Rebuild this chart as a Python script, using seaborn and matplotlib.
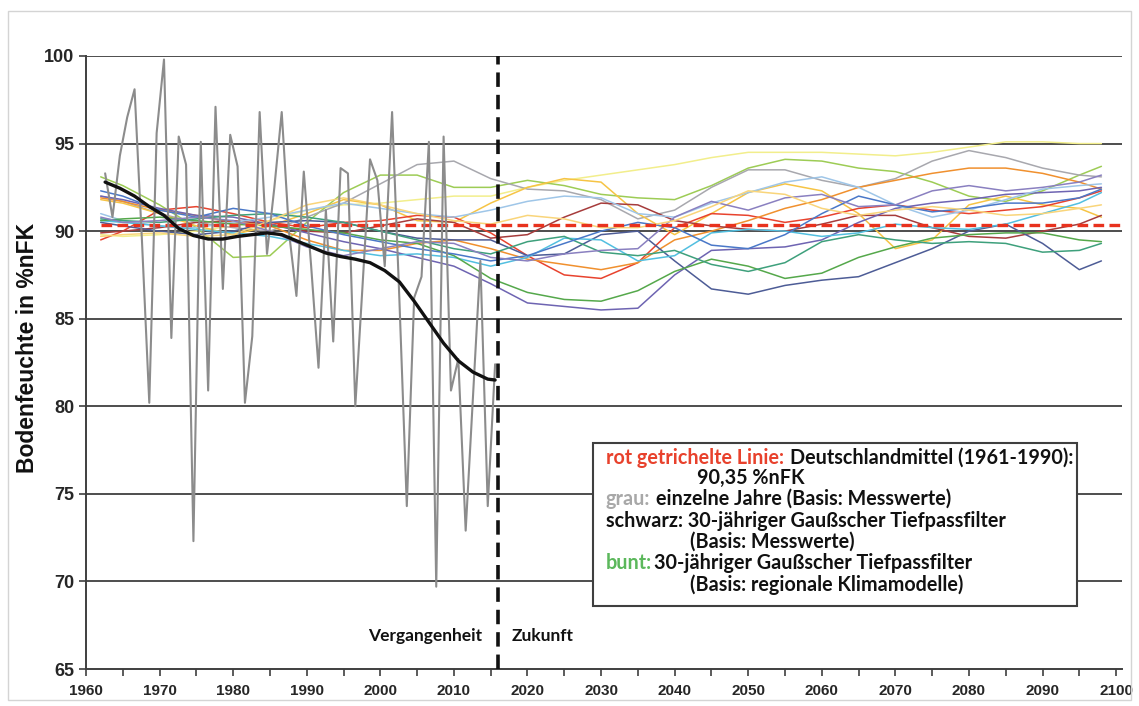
import numpy as np
import pandas as pd
import matplotlib
matplotlib.use("Agg")
import matplotlib.pyplot as plt
import seaborn as sns
from matplotlib.patches import Rectangle

# ---------------- data ----------------
OBS_YEARS = list(range(1962, 2016))
OBS_VALUES = [93.3, 90.8, 94.3, 96.5, 98.1, 89.5, 80.2, 95.6, 99.8, 83.9,
              95.4, 93.8, 72.3, 95.1, 80.9, 97.1, 86.7, 95.5, 93.7, 80.2,
              84.0, 96.8, 88.7, 92.5, 96.8, 89.9, 86.3, 93.4, 88.0, 82.2,
              91.2, 83.7, 93.6, 93.3, 80.0, 87.0, 94.1, 92.9, 88.0, 96.8,
              86.0, 74.3, 86.2, 87.4, 95.1, 69.7, 95.4, 80.9, 82.7, 72.9,
              80.6, 88.3, 74.3, 82.4]

SMOOTH_YEARS = [1962, 1964, 1966, 1968, 1970, 1972, 1974, 1976, 1978, 1980,
                1982, 1984, 1986, 1988, 1990, 1992, 1994, 1996, 1998, 2000,
                2002, 2004, 2006, 2008, 2010, 2012, 2014, 2015]
SMOOTH_VALUES = [92.8, 92.45, 92.0, 91.4, 90.9, 90.15, 89.75, 89.55, 89.55, 89.7,
                 89.8, 89.9, 89.8, 89.45, 89.1, 88.75, 88.55, 88.4, 88.2, 87.75,
                 87.1, 86.0, 84.8, 83.6, 82.6, 81.95, 81.55, 81.5]

MODEL_YEARS = [1962] + list(range(1965, 2100, 5)) + [2098]
M01 = [89.8, 89.7, 89.8, 90.0, 90.3, 90.6, 91.2, 91.5, 91.6, 91.8, 92.0, 92.0, 92.5, 92.9, 93.2,
       93.5, 93.8, 94.2, 94.5, 94.5, 94.5, 94.4, 94.3, 94.5, 94.8, 95.1, 95.1, 95.0, 95.0]
M02 = [93.1, 92.6, 91.5, 90.2, 88.5, 88.6, 90.5, 92.2, 93.2, 93.2, 92.5, 92.5, 92.9, 92.6, 92.1,
       91.9, 91.8, 92.6, 93.6, 94.1, 94.0, 93.6, 93.4, 92.8, 92.0, 91.7, 92.3, 93.2, 93.7]
M03 = [92.0, 91.7, 91.0, 90.5, 90.2, 90.0, 90.8, 91.6, 92.7, 93.8, 94.0, 93.0, 92.4, 92.3, 91.8,
       90.7, 91.2, 92.5, 93.5, 93.5, 92.9, 92.5, 93.0, 94.0, 94.6, 94.2, 93.6, 93.2, 93.1]
M04 = [91.8, 91.6, 91.0, 90.3, 89.8, 90.3, 91.0, 91.8, 91.5, 90.6, 90.5, 91.6, 92.5, 93.0, 92.8,
       91.0, 89.8, 91.0, 92.2, 92.7, 92.3, 91.0, 89.0, 89.5, 91.5, 92.0, 91.5, 91.3, 90.8]
M05 = [89.5, 90.0, 91.2, 91.4, 91.0, 90.5, 90.2, 90.5, 90.6, 90.9, 90.8, 89.9, 88.6, 87.5, 87.3,
       88.2, 90.2, 91.0, 90.9, 90.5, 90.8, 91.3, 91.5, 91.2, 91.0, 91.2, 91.4, 91.9, 92.3]
M06 = [91.9, 91.7, 91.2, 90.9, 90.5, 90.3, 89.5, 88.9, 88.9, 89.3, 89.5, 89.0, 88.4, 88.1, 87.8,
       88.2, 89.5, 90.0, 90.6, 91.3, 91.8, 92.5, 92.9, 93.3, 93.6, 93.6, 93.3, 92.8, 92.4]
M07 = [89.9, 90.0, 90.2, 90.5, 90.6, 90.4, 90.0, 89.9, 90.3, 90.7, 90.5, 89.6, 89.8, 90.8, 91.6,
       91.5, 90.6, 90.3, 90.1, 90.0, 90.4, 90.9, 90.9, 90.2, 89.7, 89.6, 90.0, 90.4, 90.9]
M08 = [90.5, 90.3, 90.0, 89.8, 90.0, 90.5, 90.6, 90.5, 90.0, 89.6, 89.5, 89.5, 88.6, 88.7, 89.8,
       90.0, 88.3, 86.7, 86.4, 86.9, 87.2, 87.4, 88.2, 89.0, 90.0, 90.4, 89.3, 87.8, 88.3]
M09 = [92.0, 91.8, 91.3, 90.9, 90.8, 90.4, 89.9, 89.4, 89.0, 88.5, 88.0, 87.0, 85.9, 85.7, 85.5,
       85.6, 87.5, 88.9, 89.0, 89.1, 89.5, 90.5, 91.3, 91.6, 91.8, 92.1, 92.2, 92.3, 92.5]
M10 = [91.0, 90.6, 90.3, 90.2, 90.5, 90.8, 91.2, 91.6, 91.3, 91.0, 90.8, 91.2, 91.7, 92.0, 91.9,
       91.0, 90.8, 91.6, 92.2, 92.8, 93.1, 92.5, 91.5, 90.8, 91.2, 91.8, 92.4, 92.6, 92.7]
M11 = [90.6, 90.5, 90.3, 90.1, 89.9, 89.7, 89.3, 88.9, 88.6, 88.7, 88.5, 88.0, 88.5, 89.6, 89.5,
       88.3, 88.6, 89.9, 90.1, 90.0, 89.7, 89.9, 90.4, 90.2, 90.1, 90.4, 91.0, 91.6, 92.2]
M12 = [90.6, 90.7, 90.8, 90.6, 90.4, 90.3, 90.1, 89.9, 89.5, 89.3, 88.6, 87.3, 86.5, 86.1, 86.0,
       86.6, 87.7, 88.4, 88.0, 87.3, 87.6, 88.5, 89.1, 89.6, 89.8, 89.9, 89.9, 89.5, 89.4]
M13 = [90.7, 90.6, 90.5, 90.7, 90.9, 91.0, 90.8, 90.5, 90.0, 89.5, 89.0, 88.7, 89.4, 89.7, 88.8,
       88.6, 88.9, 88.1, 87.7, 88.2, 89.4, 89.8, 89.5, 89.3, 89.4, 89.3, 88.8, 88.9, 89.3]
M14 = [92.3, 92.0, 91.2, 90.8, 91.3, 91.0, 90.3, 89.8, 89.4, 89.0, 88.7, 88.3, 88.6, 89.3, 90.0,
       90.5, 90.2, 89.2, 89.0, 89.8, 91.0, 92.0, 91.5, 91.1, 91.3, 91.6, 91.6, 91.9, 92.4]
M15 = [90.8, 90.5, 90.6, 90.8, 90.6, 90.0, 89.1, 88.6, 89.0, 89.4, 89.3, 88.5, 88.3, 88.7, 88.9,
       89.0, 90.8, 91.7, 91.2, 91.9, 92.1, 91.4, 91.5, 92.3, 92.6, 92.3, 92.5, 92.8, 93.2]
M16 = [89.7, 89.8, 89.9, 89.7, 89.8, 90.6, 91.5, 91.9, 91.5, 91.0, 90.6, 90.4, 90.9, 90.7, 90.2,
       90.2, 90.6, 91.4, 92.3, 92.1, 91.3, 90.9, 91.2, 91.4, 91.2, 90.9, 91.0, 91.3, 91.5]
MODEL_NAMES = ["M01", "M02", "M03", "M04", "M05", "M06", "M07", "M08",
               "M09", "M10", "M11", "M12", "M13", "M14", "M15", "M16"]
MODEL_SERIES = [M01, M02, M03, M04, M05, M06, M07, M08,
                M09, M10, M11, M12, M13, M14, M15, M16]
MODEL_COLORS = ["#f2ee8c", "#9dcc55", "#a8a8ae", "#f6c445", "#e8432e", "#f0902e",
                "#a63c3c", "#4d5c96", "#6e64b2", "#9fc6e8", "#52bfe0", "#55a84b",
                "#3ea07c", "#4a78c8", "#8a80c0", "#f9d57a"]

REFERENCE_MEAN = 90.35
YEAR_NOW = 2016
Y_TICKS = [65, 70, 75, 80, 85, 90, 95, 100]
X_TICKS = list(range(1960, 2101, 10))

# ---------------- figure ----------------
W, H = 1139, 706
sns.set_style("white")
plt.rcParams["font.family"] = ["Liberation Sans", "DejaVu Sans"]

fig = plt.figure(figsize=(W / 100, H / 100), dpi=100)
ax = fig.add_axes([86 / W, 1 - 669 / H, (1122 - 86) / W, (669 - 56) / H])

# outer light frame
fig.patches.append(Rectangle((8 / W, 1 - 700 / H), (1131 - 8) / W, (700 - 11) / H,
                             transform=fig.transFigure, fill=False,
                             edgecolor="#d4d4d4", linewidth=1.0, zorder=0))

# model runs
model_df = pd.DataFrame({
    "year": np.tile(MODEL_YEARS, len(MODEL_NAMES)),
    "value": np.concatenate(MODEL_SERIES),
    "model": np.repeat(MODEL_NAMES, len(MODEL_YEARS)),
})
sns.lineplot(data=model_df, x="year", y="value", hue="model",
             palette=dict(zip(MODEL_NAMES, MODEL_COLORS)), legend=False,
             linewidth=1.1, errorbar=None, ax=ax, zorder=3)

# reference mean (red dashed)
ax.plot([1962, 2100.5], [REFERENCE_MEAN, REFERENCE_MEAN], color="#e8321e",
        linewidth=2.4, linestyle=(0, (3.2, 1.6)), zorder=4)

# observed annual values (grey) and smoothed (black), plotted at mid-year
obs_df = pd.DataFrame({"year": np.array(OBS_YEARS) + 0.6, "value": OBS_VALUES})
sns.lineplot(data=obs_df, x="year", y="value", color="#8c8c8c", linewidth=1.5,
             errorbar=None, ax=ax, zorder=5)
sm_df = pd.DataFrame({"year": np.array(SMOOTH_YEARS) + 0.6, "value": SMOOTH_VALUES})
sns.lineplot(data=sm_df, x="year", y="value", color="#111111", linewidth=2.4,
             errorbar=None, ax=ax, zorder=6)

# vertical dashed line (now)
ax.plot([YEAR_NOW, YEAR_NOW], [65, 100], color="#111111", linewidth=2.6,
        linestyle=(0, (4.0, 2.2)), zorder=7, clip_on=False)

# axes styling
ax.set_xlim(1960, 2100.8)
ax.set_ylim(65, 100)
ax.set_xticks(X_TICKS)
ax.set_xticks(list(range(1965, 2100, 10)), minor=True)
ax.set_yticks(Y_TICKS)
for yv in Y_TICKS[1:]:
    ax.axhline(yv, color="#3f3f3f", linewidth=1.3, zorder=1)
for side in ["top", "right"]:
    ax.spines[side].set_visible(False)
for side in ["left", "bottom"]:
    ax.spines[side].set_color("#3f3f3f")
    ax.spines[side].set_linewidth(1.4)
ax.tick_params(axis="both", which="both", direction="out", color="#3f3f3f",
               width=1.2, length=5, bottom=True, left=True)
ax.tick_params(axis="x", which="major", pad=6)
ax.set_xticklabels([str(x) for x in X_TICKS], fontsize=11, fontweight="bold")
ax.set_yticklabels([str(y) for y in Y_TICKS], fontsize=13, fontweight="bold")
ax.set_xlabel("")
ax.set_ylabel("")
fig.text(28 / W, 1 - 348 / H, "Bodenfeuchte in %nFK", rotation=90, ha="center",
         va="center", fontsize=16.5, fontweight="bold", color="#111111")

# period labels
LEG_FONT = ["Lato", "DejaVu Sans"]
fig.text(482 / W, 1 - 636 / H, "Vergangenheit", ha="right", va="center",
         fontsize=12.5, fontweight="bold", family=LEG_FONT, color="#111111")
fig.text(512 / W, 1 - 636 / H, "Zukunft", ha="left", va="center",
         fontsize=12.5, fontweight="bold", family=LEG_FONT, color="#111111")

# annotation box
fig.patches.append(Rectangle((593 / W, 1 - 606 / H), (1077 - 593) / W, (606 - 443) / H,
                             transform=fig.transFigure, facecolor="white",
                             edgecolor="#3f3f3f", linewidth=1.5, zorder=10))
renderer = fig.canvas.get_renderer()
LEG_SIZE = 14.2


def rich_line(x_px, y_px, parts, gap=6):
    x = x_px
    for txt, col in parts:
        t = fig.text(x / W, 1 - y_px / H, txt, color=col, ha="left", va="center",
                     fontsize=LEG_SIZE, fontweight="bold", family=LEG_FONT, zorder=11)
        x += t.get_window_extent(renderer=renderer).width + gap


RED, GREY, GREEN, BLACK = "#e8412c", "#a8a8a8", "#5cb85c", "#111111"
rich_line(606, 458, [("rot getrichelte Linie:", RED), ("Deutschlandmittel (1961-1990):", BLACK)])
rich_line(697, 478, [("90,35 %nFK", BLACK)])
rich_line(606, 499, [("grau:", GREY), ("einzelne Jahre (Basis: Messwerte)", BLACK)])
rich_line(606, 521, [("schwarz: 30-jähriger Gaußscher Tiefpassfilter", BLACK)])
rich_line(690, 542, [("(Basis: Messwerte)", BLACK)])
rich_line(606, 563, [("bunt:", GREEN), ("30-jähriger Gaußscher Tiefpassfilter", BLACK)], gap=2)
rich_line(690, 585, [("(Basis: regionale Klimamodelle)", BLACK)])

fig.savefig("out.png", dpi=100, facecolor="white")
